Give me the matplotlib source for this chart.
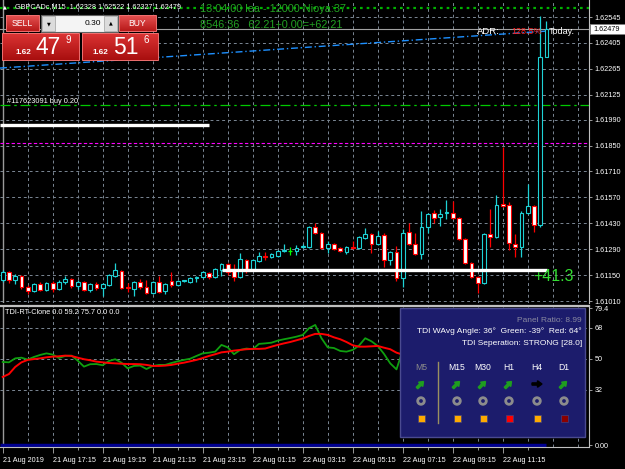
import matplotlib
matplotlib.use('Agg')
import matplotlib.pyplot as plt
from matplotlib.patches import Rectangle, Circle, FancyArrow
from matplotlib.colors import LinearSegmentedColormap
import numpy as np

plt.rcParams['font.family'] = ['Liberation Sans', 'DejaVu Sans']

# GBPCADc M15, 21 Aug 15:15 .. 22 Aug 13:00
opens = [
    1.61124, 1.61167, 1.61124, 1.61145, 1.61086, 1.61064, 1.61102, 1.61070, 1.61107, 1.61075,
    1.61113, 1.61129, 1.61091, 1.61113, 1.61070, 1.61102, 1.61080, 1.61097, 1.61145, 1.61172,
    1.61086, 1.61075, 1.61113, 1.61086, 1.61053, 1.61113, 1.61064, 1.61118, 1.61097, 1.61118,
    1.61113, 1.61134, 1.61140, 1.61161, 1.61140, 1.61178, 1.61210, 1.61183, 1.61140, 1.61232,
    1.61183, 1.61226, 1.61253, 1.61248, 1.61253, 1.61280, 1.61280, 1.61280, 1.61302, 1.61302,
    1.61410, 1.61378, 1.61296, 1.61318, 1.61296, 1.61275, 1.61302, 1.61296, 1.61351, 1.61372,
    1.61318, 1.61367, 1.61232, 1.61275, 1.61134, 1.61383, 1.61318, 1.61264, 1.61410, 1.61486,
    1.61464, 1.61486, 1.61486, 1.61459, 1.61345, 1.61215, 1.61140, 1.61107, 1.61372, 1.61356,
    1.61534, 1.61529, 1.61318, 1.61302, 1.61486, 1.61524, 1.61421, 1.62328]
highs = [
    1.61178, 1.61172, 1.61156, 1.61151, 1.61097, 1.61107, 1.61113, 1.61113, 1.61118, 1.61124,
    1.61145, 1.61134, 1.61124, 1.61118, 1.61107, 1.61113, 1.61107, 1.61156, 1.61215, 1.61178,
    1.61107, 1.61118, 1.61129, 1.61124, 1.61118, 1.61145, 1.61107, 1.61167, 1.61124, 1.61124,
    1.61140, 1.61145, 1.61172, 1.61167, 1.61188, 1.61215, 1.61215, 1.61210, 1.61269, 1.61237,
    1.61237, 1.61275, 1.61275, 1.61269, 1.61286, 1.61318, 1.61302, 1.61313, 1.61318, 1.61415,
    1.61432, 1.61383, 1.61334, 1.61324, 1.61302, 1.61307, 1.61334, 1.61361, 1.61405, 1.61378,
    1.61388, 1.61378, 1.61280, 1.61307, 1.61399, 1.61432, 1.61378, 1.61497, 1.61486, 1.61502,
    1.61507, 1.61556, 1.61551, 1.61464, 1.61351, 1.61221, 1.61145, 1.61378, 1.61507, 1.61583,
    1.61842, 1.61545, 1.61372, 1.61497, 1.61642, 1.61529, 1.62550, 1.62522]
lows = [
    1.61113, 1.61107, 1.61102, 1.61075, 1.61048, 1.61059, 1.61064, 1.61064, 1.61059, 1.61070,
    1.61102, 1.61080, 1.61075, 1.61064, 1.61059, 1.61070, 1.61037, 1.61091, 1.61140, 1.61075,
    1.61059, 1.61037, 1.61075, 1.61048, 1.61048, 1.61053, 1.61048, 1.61086, 1.61091, 1.61113,
    1.61107, 1.61113, 1.61134, 1.61129, 1.61134, 1.61145, 1.61151, 1.61118, 1.61134, 1.61161,
    1.61178, 1.61221, 1.61232, 1.61242, 1.61248, 1.61275, 1.61259, 1.61259, 1.61296, 1.61296,
    1.61372, 1.61291, 1.61269, 1.61286, 1.61275, 1.61264, 1.61291, 1.61291, 1.61345, 1.61269,
    1.61313, 1.61194, 1.61205, 1.61118, 1.61086, 1.61313, 1.61259, 1.61237, 1.61378, 1.61432,
    1.61415, 1.61453, 1.61453, 1.61340, 1.61210, 1.61134, 1.61053, 1.61102, 1.61302, 1.61351,
    1.61518, 1.61286, 1.61248, 1.61248, 1.61480, 1.61383, 1.61410, 1.62327]
closes = [
    1.61167, 1.61124, 1.61145, 1.61086, 1.61064, 1.61102, 1.61070, 1.61107, 1.61075, 1.61113,
    1.61129, 1.61091, 1.61113, 1.61070, 1.61102, 1.61080, 1.61102, 1.61151, 1.61178, 1.61080,
    1.61080, 1.61113, 1.61086, 1.61053, 1.61113, 1.61059, 1.61102, 1.61097, 1.61118, 1.61124,
    1.61134, 1.61140, 1.61167, 1.61140, 1.61183, 1.61210, 1.61167, 1.61140, 1.61237, 1.61183,
    1.61232, 1.61253, 1.61248, 1.61264, 1.61280, 1.61286, 1.61280, 1.61296, 1.61307, 1.61410,
    1.61378, 1.61296, 1.61318, 1.61291, 1.61280, 1.61302, 1.61296, 1.61356, 1.61372, 1.61318,
    1.61361, 1.61232, 1.61275, 1.61134, 1.61378, 1.61318, 1.61264, 1.61410, 1.61480, 1.61459,
    1.61480, 1.61491, 1.61459, 1.61345, 1.61215, 1.61140, 1.61107, 1.61372, 1.61356, 1.61529,
    1.61524, 1.61324, 1.61302, 1.61486, 1.61524, 1.61421, 1.62328, 1.62479]

# TDI sub window: green = RSI price line, red = trade signal line
tdi_green = [
    48.2, 48.0, 50.3, 50.7, 49.6, 51.1, 52.3, 53.2, 52.5, 50.5,
    51.7, 51.9, 49.0, 45.5, 46.9, 47.0, 46.3, 48.8, 49.8, 47.8,
    44.5, 45.9, 46.1, 44.1, 45.9, 46.5, 46.5, 47.6, 48.6, 49.4,
    50.1, 51.7, 53.2, 53.6, 54.2, 58.1, 56.7, 52.7, 55.2, 56.0,
    55.6, 58.7, 59.0, 59.4, 60.6, 61.4, 62.1, 62.9, 63.9, 67.8,
    69.7, 62.0, 56.7, 56.3, 54.6, 54.2, 55.2, 57.7, 62.0, 60.2,
    57.5, 52.9, 47.4, 43.9, 55.0, 52.0, 48.0, 56.0, 60.0, 58.0,
    59.0, 60.0, 57.0, 50.0, 43.0, 39.0, 37.0, 50.0, 50.0, 57.0,
    57.0, 48.0, 47.0, 55.0, 57.0, 52.0, 76.0, 75.7]
tdi_red = [
    39.5, 41.2, 45.3, 48.0, 49.4, 49.9, 50.3, 50.9, 51.3, 51.5,
    51.9, 51.7, 50.7, 49.8, 49.2, 48.4, 48.0, 47.6, 47.4, 47.2,
    47.0, 47.0, 46.9, 46.5, 45.9, 45.9, 46.1, 46.5, 47.2, 47.8,
    48.6, 49.4, 50.5, 51.7, 52.7, 53.8, 54.2, 54.8, 55.2, 55.6,
    55.8, 55.8, 56.0, 57.1, 58.1, 59.0, 59.8, 60.8, 61.8, 63.3,
    64.5, 64.5, 63.9, 62.5, 61.4, 59.8, 57.9, 57.1, 57.1, 57.3,
    57.5, 56.5, 55.6, 53.6, 52.5, 52.0, 51.5, 52.0, 53.0, 54.0,
    55.0, 56.0, 57.0, 56.0, 54.0, 51.0, 48.0, 47.5, 47.5, 48.5,
    50.0, 50.5, 51.0, 52.0, 53.0, 53.5, 56.5, 59.2]

time_labels = ['21 Aug 2019', '21 Aug 17:15', '21 Aug 19:15', '21 Aug 21:15', '21 Aug 23:15',
               '22 Aug 01:15', '22 Aug 03:15', '22 Aug 05:15', '22 Aug 07:15', '22 Aug 09:15',
               '22 Aug 11:15']
price_ticks = [1.62545, 1.62405, 1.62265, 1.62125, 1.61990, 1.61850,
               1.61710, 1.61570, 1.61430, 1.61290, 1.61150, 1.61010]
tdi_ticks = [79.4, 68, 50, 32, 0]
tdi_tick_labels = ['79.4', '68', '50', '32', '0.00']
tdi_levels = [68, 50, 32]

bid = 1.62479
order_price = 1.62069      # #117623091 buy 0.20
white_lvl1 = 1.61961
white_lvl2 = 1.61178
magenta_lvl = 1.61864
dotted_top = 1.62594
trend_pts = ([-0.43, 87.5], [1.62269, 1.62470])

panel_cols = ['M5', 'M15', 'M30', 'H1', 'H4', 'D1']
panel_arrow_dirs = ['up', 'up', 'up', 'up', 'flat', 'up']
panel_box_colors = ['#ffaa00', '#ffaa00', '#ffaa00', '#ff0000', '#ffaa00', '#8b0000']

W, H = 625, 469
GRID = '#7b8794'
CYAN = '#1ed2d6'


def box(x0, y0, x1, y1):
    return [x0 / W, 1 - y1 / H, (x1 - x0) / W, (y1 - y0) / H]


fig = plt.figure(figsize=(W / 100, H / 100), dpi=100, facecolor='black')

# ---- price window
ax = fig.add_axes(box(0, 0, 589, 303))
ax.set_facecolor('black')
ax.set_xlim(-0.43, 93.8)
ax.set_ylim(1.609992, 1.626369)
for i in range(0, 94, 4):
    ax.axvline(i, color=GRID, ls=(0, (3, 3)), lw=0.7, zorder=1)
for p in price_ticks:
    ax.axhline(p, color=GRID, ls=(0, (3, 3)), lw=0.7, zorder=1)
ax.axvline(0, color='#9a9a9a', lw=1, zorder=1)

ax.axhline(dotted_top, color='#00b000', ls=(0, (1.2, 1.8)), lw=1.6, zorder=2)
ax.axhline(order_price, color='#00c800', ls=(0, (8, 3, 2, 3)), lw=0.9, zorder=2)
ax.axhline(magenta_lvl, color='#ff00ff', ls=(0, (3, 2)), lw=0.8, zorder=2)
ax.axhline(bid, color='#a0a0a0', lw=0.8, zorder=2)
ax.plot(trend_pts[0], trend_pts[1], color='#1e90ff', ls=(0, (5, 2, 1, 2)), lw=1, zorder=2)

for i, (o, h, l, c) in enumerate(zip(opens, highs, lows, closes)):
    if c > o:
        col, face = CYAN, 'black'
    elif c < o:
        col, face = '#ff0000', 'white'
    else:
        col, face = '#00ff00', None
    ax.vlines(i, l, h, color=col, lw=0.9, zorder=3)
    if face is None:
        ax.hlines(o, i - 0.31, i + 0.31, color=col, lw=0.9, zorder=4)
    else:
        ax.add_patch(Rectangle((i - 0.31, min(o, c)), 0.62, max(abs(c - o), 0.00001),
                               facecolor=face, edgecolor=col, lw=0.8, zorder=4))

ax.hlines(white_lvl1, -0.43, 33.0, color='white', lw=2.4, zorder=5)
ax.hlines(white_lvl2, 35.1, 87.1, color='white', lw=2.4, zorder=5)

ax.yaxis.tick_right()
ax.set_yticks(price_ticks)
ax.set_yticklabels([f'{p:.5f}' for p in price_ticks])
ax.tick_params(axis='y', colors='#b0b0b0', labelcolor='white', labelsize=5.2,
               length=2.5, width=0.6, pad=1.5)
ax.set_xticks([])
for s in ['top', 'left', 'bottom']:
    ax.spines[s].set_visible(False)
ax.spines['right'].set_color('#c0c0c0')

# ---- TDI window
sub = fig.add_axes(box(0, 306, 589, 447))
sub.set_facecolor('black')
sub.set_xlim(-0.43, 93.8)
sub.set_ylim(-1.16, 80.7)
for i in range(0, 94, 4):
    sub.axvline(i, color=GRID, ls=(0, (3, 3)), lw=0.7, zorder=1)
for v in tdi_levels:
    sub.axhline(v, color=GRID, ls=(0, (3, 3)), lw=0.7, zorder=1)
sub.axvline(0, color='#9a9a9a', lw=1, zorder=1)
x = np.arange(len(tdi_green))
sub.hlines(0, -0.43, 87, color='#000090', lw=2.5, zorder=2)
sub.plot(x, tdi_green, color='#0fa00f', lw=1.3, zorder=3)
sub.plot(x, tdi_red, color='#ff0000', lw=1.4, zorder=4)

sub.yaxis.tick_right()
sub.set_yticks(tdi_ticks)
sub.set_yticklabels(tdi_tick_labels)
sub.tick_params(axis='y', colors='#b0b0b0', labelcolor='white', labelsize=5.2,
                length=2.5, width=0.6, pad=1.5)
sub.set_xticks(range(0, 81, 8))
sub.set_xticklabels(time_labels)
sub.set_xticks(range(4, 90, 8), minor=True)
sub.tick_params(axis='x', which='major', colors='#b0b0b0', labelcolor='white',
                labelsize=5.2, length=4, width=0.6, pad=3)
sub.tick_params(axis='x', which='minor', colors='#b0b0b0', length=2, width=0.6)
for lbl in sub.get_xticklabels():
    lbl.set_ha('left')
sub.spines['left'].set_visible(False)
for s in ['top', 'right', 'bottom']:
    sub.spines[s].set_color('#c0c0c0')
sub.spines['top'].set_linewidth(1.6)

# ---- overlay: texts, trade panel, dashboard
ov = fig.add_axes([0, 0, 1, 1])
ov.set_xlim(0, W)
ov.set_ylim(H, 0)
ov.axis('off')
ov.patch.set_alpha(0)


def grad_box(x0, y0, x1, y1, top, bottom, edge='#f07070'):
    cmap = LinearSegmentedColormap.from_list('g', [top, bottom])
    ov.imshow(np.linspace(0, 1, 32).reshape(-1, 1), extent=(x0, x1, y1, y0),
              cmap=cmap, aspect='auto', zorder=5)
    ov.add_patch(Rectangle((x0, y0), x1 - x0, y1 - y0, fill=False,
                           edgecolor=edge, lw=0.7, zorder=6))


ov.text(3, 7, '▲', color='white', fontsize=3.5, va='center', family='DejaVu Sans')
ov.text(15, 7, 'GBPCADc,M15  1.62328 1.62522 1.62327 1.62479', color='white',
        fontsize=5.2, va='center')
ov.text(200, 9, '13:04:00 lea - 12000 Nioya:37', color='#22a222', fontsize=7.8, va='center')
ov.text(200, 25, '8546:36   62.21+0.00=+62.21', color='#22a222', fontsize=7.8, va='center')

# one click trading
grad_box(6, 15, 39, 31, '#e55252', '#b81a1a')
ov.text(22.5, 23, 'SELL', color='white', fontsize=6.2, ha='center', va='center', zorder=7)
ov.add_patch(Rectangle((41, 15), 77, 17, facecolor='#f4f4f4', edgecolor='#606060', lw=0.8, zorder=5))
ov.add_patch(Rectangle((42, 16), 13, 15, facecolor='#dcdcdc', edgecolor='#a0a0a0', lw=0.5, zorder=6))
ov.add_patch(Rectangle((104, 16), 13, 15, facecolor='#dcdcdc', edgecolor='#a0a0a0', lw=0.5, zorder=6))
ov.text(48.5, 23.5, '▼', color='black', fontsize=3.5, ha='center', va='center',
        family='DejaVu Sans', zorder=7)
ov.text(110.5, 23, '▲', color='black', fontsize=3.5, ha='center', va='center',
        family='DejaVu Sans', zorder=7)
ov.text(101, 23.5, '0.30', color='black', fontsize=6, ha='right', va='center', zorder=7)
grad_box(119, 15, 156, 31, '#e55252', '#b81a1a')
ov.text(137.5, 23, 'BUY', color='white', fontsize=6.2, ha='center', va='center', zorder=7)

grad_box(2, 33, 79, 60, '#dc3434', '#a80f0f')
grad_box(82, 33, 158, 60, '#dc3434', '#a80f0f')
for x0, big, small in [(16, '47', '9'), (93, '51', '6')]:
    ov.text(x0, 52, '1.62', color='white', fontsize=5.9, va='center', weight='bold', zorder=7)
    ov.text(x0 + 20, 47, big, color='white', fontsize=16.5, va='center', zorder=7)
    ov.text(x0 + 50, 40, small, color='white', fontsize=7, va='center', zorder=7)

ov.text(7, 101.5, '#117623091 buy 0.20', color='white', fontsize=5.3, va='center')
ov.text(477, 32, 'ADR:', color='white', fontsize=6.8, va='center')
ov.text(511, 31.5, '128.5%', color='#ff1a1a', fontsize=6.5, va='center')
ov.text(549, 32, 'Today.', color='white', fontsize=6.5, va='center')
ov.text(533, 276.5, '+41.3', color='#33dd33', fontsize=11.5, va='center')

ov.add_patch(Rectangle((590, 24.5), 35, 9.5, facecolor='white', edgecolor='#808080', lw=0.6, zorder=5))
ov.text(593, 29.2, f'{bid:.5f}', color='black', fontsize=5.2, va='center', zorder=6)

ov.text(5, 313, 'TDI-RT-Clone 0.0 59.2 75.7 0.0 0.0', color='white', fontsize=5.3, va='center')

# dashboard panel
ov.add_patch(Rectangle((400, 308), 185, 129, facecolor='#1c1c6c', edgecolor='#4a4a90', lw=1, zorder=5))
ov.text(582, 320, 'Panel Ratio: 8.99', color='#8a8aa0', fontsize=6, ha='right', va='center', zorder=6)
ov.text(582, 331, 'TDI WAvg Angle: 36°  Green: -39°  Red: 64°', color='white', fontsize=6,
        ha='right', va='center', zorder=6)
ov.text(582, 343.5, 'TDI Seperation: STRONG [28.0]', color='white', fontsize=6,
        ha='right', va='center', zorder=6)
ov.plot([438, 438], [362, 423], color='#9a9060', lw=1, zorder=6)
col_x = [421, 457, 483, 509, 537, 564]
for cx, name, d, bcol in zip(col_x, panel_cols, panel_arrow_dirs, panel_box_colors):
    ov.text(cx, 367, name, color='#8a8a8a' if name == 'M5' else 'white', fontsize=6.2,
            ha='center', va='center', zorder=6)
    if d == 'up':
        ov.add_patch(FancyArrow(cx - 4, 388, 6.5, -6.5, width=2.2, head_width=6,
                                head_length=4, length_includes_head=True,
                                color='#1f9e1f', zorder=6))
    else:
        ov.add_patch(FancyArrow(cx - 5, 384, 10, 0, width=2.2, head_width=6.5,
                                head_length=4.5, length_includes_head=True,
                                color='black', zorder=6))
    ov.add_patch(Circle((cx, 401), 3.3, fill=False, edgecolor='#8c8c8c', lw=2, zorder=6))
    ov.add_patch(Rectangle((cx - 3.5, 415.5), 7, 7, facecolor=bcol, edgecolor='#404080',
                           lw=0.5, zorder=6))

fig.savefig('out.png', dpi=100, facecolor='black')
